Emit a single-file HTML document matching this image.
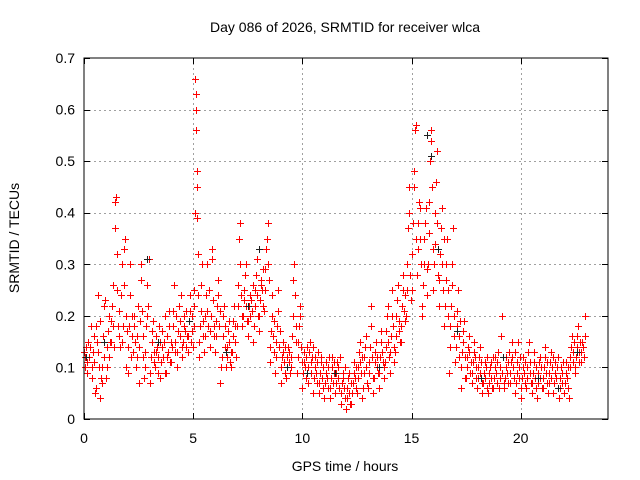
<!DOCTYPE html>
<html><head><meta charset="utf-8"><style>
body{margin:0;background:#fff}
svg{display:block;font-family:"Liberation Sans",sans-serif}
</style></head><body>
<svg id="chart" width="640" height="480">
<rect width="640" height="480" fill="#fff"/>
<text x="345" y="32" font-size="14" text-anchor="middle">Day 086 of 2026, SRMTID for receiver wlca</text>
<text x="345" y="471" font-size="14" text-anchor="middle">GPS time / hours</text>
<text transform="translate(19,238) rotate(-90)" font-size="14" text-anchor="middle">SRMTID / TECUs</text>
<g id="grid"></g>
<g id="axes"></g>
<g id="red"></g>
<g id="black"></g>
<rect x="84" y="58" width="524" height="361" fill="none" stroke="#000" stroke-width="1" shape-rendering="crispEdges"/>
</svg>
<script>
const xTicks=[0,5,10,15,20];
const yTicks=[0,0.1,0.2,0.3,0.4,0.5,0.6,0.7];
const yTickLabels=["0","0.1","0.2","0.3","0.4","0.5","0.6","0.7"];
const binStarts=[0,0.25,0.5,0.75,1,1.25,1.5,1.75,2,2.25,2.5,2.75,3,3.25,3.5,3.75,4,4.25,4.5,4.75,5,5.25,5.5,5.75,6,6.25,6.5,6.75,7,7.25,7.5,7.75,8,8.25,8.5,8.75,9,9.25,9.5,9.75,10,10.25,10.5,10.75,11,11.25,11.5,11.75,12,12.25,12.5,12.75,13,13.25,13.5,13.75,14,14.25,14.5,14.75,15,15.25,15.5,15.75,16,16.25,16.5,16.75,17,17.25,17.5,17.75,18,18.25,18.5,18.75,19,19.25,19.5,19.75,20,20.25,20.5,20.75,21,21.25,21.5,21.75,22,22.25,22.5,22.75];
const binValues=[
[.13,.10,.12,.14,.09,.11,.15,.12],[.12,.14,.18,.10,.08,.13,.16,.11],[.05,.06,.18,.15,.13,.24,.10,.19],[.04,.08,.07,.10,.16,.22,.12,.23],
[.08,.10,.14,.17,.20,.12,.15,.19],[.15,.22,.26,.18,.14,.37,.42,.43],[.25,.32,.18,.21,.16,.14,.24,.30],[.15,.18,.26,.33,.35,.20,.10,.17],
[.09,.14,.18,.24,.30,.12,.16,.20],[.13,.18,.20,.15,.10,.12,.16,.22],[.07,.14,.19,.27,.30,.21,.16,.12],[.08,.10,.13,.18,.20,.26,.22,.31],
[.07,.09,.12,.15,.17,.19,.13,.11],[.10,.13,.16,.14,.12,.09,.18,.15],[.08,.11,.14,.17,.12,.15,.09,.20],[.09,.12,.16,.13,.18,.21,.11,.15],
[.11,.14,.18,.21,.26,.15,.13,.20],[.10,.13,.17,.22,.16,.19,.24,.14],[.12,.15,.18,.20,.17,.14,.21,.16],[.13,.16,.19,.21,.24,.15,.17,.20],
[.14,.18,.22,.25,.40,.66,.63,.60,.56,.48,.45,.39,.32,.24],[.12,.15,.18,.21,.26,.30,.19,.16],[.13,.16,.20,.24,.30,.21,.18,.25],[.14,.17,.20,.33,.31,.23,.18,.16],
[.13,.16,.19,.22,.27,.24,.18,.21],[.07,.10,.12,.16,.20,.22,.14,.18],[.10,.12,.14,.17,.19,.15,.11,.13],[.10,.13,.16,.19,.22,.18,.15,.12],
[.18,.22,.26,.35,.38,.30,.24,.20],[.18,.20,.23,.25,.28,.30,.22,.19],[.16,.19,.22,.24,.20,.23,.21,.26],[.15,.18,.22,.25,.28,.31,.24,.20],
[.17,.20,.23,.26,.27,.25,.22,.29],[.21,.25,.29,.33,.35,.38,.30,.27],[.11,.14,.17,.20,.24,.16,.13,.19],[.09,.12,.15,.18,.21,.25,.14,.17],
[.07,.10,.12,.15,.13,.11,.09,.14],[.08,.10,.12,.14,.11,.13,.09,.10],[.12,.16,.20,.27,.30,.24,.15,.18],[.09,.12,.15,.18,.22,.20,.14,.11],
[.06,.09,.11,.13,.10,.12,.08,.14],[.07,.10,.13,.15,.11,.09,.12,.14],[.05,.08,.10,.12,.09,.11,.07,.13],[.05,.07,.09,.11,.12,.08,.10,.06],
[.04,.07,.09,.11,.08,.10,.06,.12],[.04,.06,.08,.10,.12,.07,.09,.11],[.05,.07,.09,.11,.08,.10,.06,.12],[.03,.05,.07,.09,.08,.06,.10,.04],
[.02,.04,.06,.08,.09,.05,.03,.07],[.03,.05,.07,.09,.11,.08,.06,.10],[.05,.08,.10,.13,.15,.11,.09,.12],[.04,.06,.09,.12,.14,.16,.10,.07],
[.06,.09,.11,.14,.18,.22,.12,.08],[.05,.08,.11,.13,.15,.10,.12,.09],[.06,.09,.12,.15,.17,.13,.11,.10],[.08,.11,.14,.17,.20,.22,.15,.12],
[.09,.13,.16,.20,.25,.18,.14,.11],[.13,.16,.20,.23,.26,.19,.17,.15],[.15,.18,.22,.25,.28,.21,.24,.19],[.20,.25,.30,.37,.40,.45,.28,.23],
[.25,.32,.38,.45,.48,.56,.57,.35],[.28,.33,.38,.42,.41,.35,.30,.22],[.20,.26,.30,.35,.38,.41,.29,.24],[.30,.36,.42,.50,.54,.56,.45,.33],
[.25,.30,.34,.40,.46,.52,.38,.28],[.22,.27,.32,.37,.41,.30,.25,.35],[.18,.22,.27,.30,.35,.25,.20,.09],[.14,.18,.22,.26,.30,.37,.20,.16],
[.11,.14,.18,.21,.25,.16,.12,.19],[.06,.10,.13,.15,.17,.19,.12,.08],[.08,.10,.12,.14,.16,.13,.09,.11],[.07,.09,.11,.13,.15,.12,.10,.08],
[.06,.08,.10,.12,.14,.09,.11,.07],[.05,.07,.09,.11,.08,.10,.06,.12],[.05,.07,.09,.10,.08,.11,.06,.12],[.06,.08,.10,.12,.09,.07,.11,.13],
[.06,.08,.10,.16,.20,.09,.12,.07],[.06,.08,.10,.12,.09,.11,.07,.13],[.07,.09,.11,.15,.12,.10,.08,.13],[.05,.07,.09,.11,.15,.08,.10,.12],
[.04,.06,.08,.10,.12,.09,.07,.11],[.06,.08,.10,.13,.15,.09,.11,.07],[.05,.07,.09,.11,.13,.08,.10,.06],[.04,.07,.09,.11,.12,.08,.10,.06],
[.06,.08,.10,.12,.14,.09,.11,.07],[.05,.07,.09,.11,.13,.08,.10,.12],[.05,.07,.09,.11,.08,.10,.06,.12],[.04,.06,.08,.10,.09,.07,.11,.05],
[.05,.07,.09,.11,.08,.06,.10,.04],[.10,.12,.14,.16,.11,.13,.15,.09],[.10,.12,.14,.16,.18,.13,.11,.15],[.11,.13,.15,.14,.12,.20,.16]
];
const blackX=[0.1,0.9,2.9,3.4,4.8,6.5,7.5,8.0,9.3,10.2,11.5,13.5,15.7,15.9,16.2,17.1,18.2,19.2,20.8,21.7,22.6];
const blackY=[.12,.15,.31,.15,.19,.13,.22,.33,.10,.09,.09,.10,.55,.51,.33,.17,.08,.12,.08,.06,.13];

const X0=84,X1=608,Y0=419,Y1=58,XMAX=24,YMAX=0.7;
const sx=v=>X0+v/XMAX*(X1-X0);
const sy=v=>Y0-v/YMAX*(Y0-Y1);
const NS="http://www.w3.org/2000/svg";
const grid=document.getElementById('grid'),axes=document.getElementById('axes');
function mk(tag,attrs,parent){const e=document.createElementNS(NS,tag);for(const k in attrs)e.setAttribute(k,attrs[k]);parent.appendChild(e);return e;}
xTicks.forEach(t=>{
  const x=Math.round(sx(t))+0.5;
  if(t>0){const g=mk('line',{x1:x,x2:x,y1:Y1,y2:Y0,stroke:'#a0a0a0','stroke-dasharray':'2,3'},grid);
  
  }
  mk('line',{x1:x,x2:x,y1:Y0,y2:Y0-6,stroke:'#000'},axes);
  mk('line',{x1:x,x2:x,y1:Y1,y2:Y1+6,stroke:'#000'},axes);
  const l=mk('text',{x:sx(t),y:443,'font-size':14,'text-anchor':'middle'},axes);l.textContent=t;
  
  
});
yTicks.forEach((t,i)=>{
  const y=Math.round(sy(t))+0.5;
  if(t>0&&t<YMAX){const g=mk('line',{x1:X0,x2:X1,y1:y,y2:y,stroke:'#a0a0a0','stroke-dasharray':'2,3'},grid);
  
  }
  mk('line',{x1:X0,x2:X0+6,y1:y,y2:y,stroke:'#000'},axes);
  mk('line',{x1:X1,x2:X1-6,y1:y,y2:y,stroke:'#000'},axes);
  const l=mk('text',{x:75,y:sy(t)+5,'font-size':14,'text-anchor':'end'},axes);l.textContent=yTickLabels[i];
  
  
});
function cross(x,y,c,g){
  const px=Math.round(sx(x))+0.5,py=Math.round(sy(y))+0.5;
  const p=mk('path',{d:`M${px-3.5} ${py}H${px+3.5}M${px} ${py-3.5}V${py+3.5}`,stroke:c,'stroke-width':1,fill:'none'},g);
  
  
}
const red=document.getElementById('red'),blk=document.getElementById('black');
binStarts.forEach((b,i)=>{const vals=binValues[i];vals.forEach((v,j)=>cross(b+j*0.25/vals.length,v,'#ff0000',red));});
blackX.forEach((x,i)=>cross(x,blackY[i],'#202020',blk));
</script>
</body></html>
